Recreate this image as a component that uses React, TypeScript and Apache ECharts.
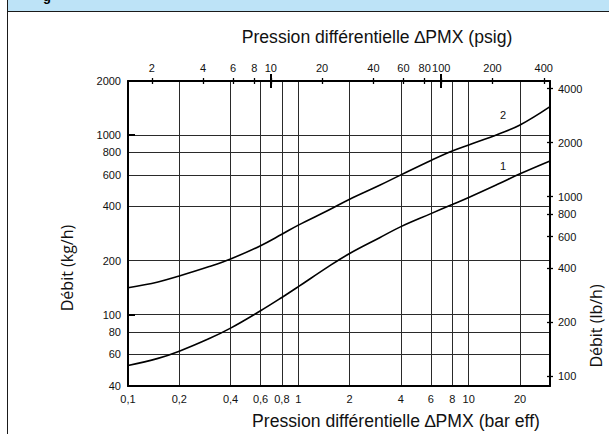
import React, { useEffect, useRef } from "react";
import * as echarts from "echarts";

// Data
const barValues = [0.1, 0.15, 0.2, 0.3, 0.4, 0.6, 0.8, 1, 1.5, 2, 3, 4, 6, 8, 10, 15, 20, 30];
const curve1KgH = [52, 57, 62.5, 73.5, 84, 105, 124.5, 143, 185, 219, 268, 309, 365, 410, 449, 535, 608, 717];
const curve2KgH = [141, 152, 164, 185, 204, 242, 280, 315, 381, 439, 525, 600, 722, 815, 880, 1014, 1137, 1439];

const bottomLabels = [0.1, 0.2, 0.4, 0.6, 0.8, 1, 2, 4, 6, 8, 10, 20];
const gridX = [0.2, 0.4, 0.6, 0.8, 1, 2, 4, 6, 8, 10, 20];
const topLabels = [2, 4, 6, 8, 10, 20, 40, 60, 80, 100, 200, 400];
const topMajor = [10, 100];
const leftLabels = [40, 60, 80, 100, 200, 400, 600, 800, 1000, 2000];
const gridY = [60, 80, 100, 200, 400, 600, 800, 1000];
const leftMajor = [100, 1000];
const rightLabels = [100, 200, 400, 600, 800, 1000, 2000, 4000];

const curveLabels = [
  { name: "2", bar: 15.9, kgh: 1290 },
  { name: "1", bar: 15.9, kgh: 672 },
];

const BAR_MIN = 0.1;
const BAR_MAX = 30;
const KG_MIN = 40;
const KG_MAX = 2000;
const PSI_PER_BAR = 14.5038;
const LB_PER_KG = 2.20462;

const FONT = "'Liberation Sans', Arial, sans-serif";
const TXT = "#111";

const fmt = (v: number) => String(v).replace(".", ",");

export default function App() {
  const ref = useRef<HTMLDivElement>(null);
  useEffect(() => {
    if (!ref.current) return;
    const chart = echarts.init(ref.current, null, { renderer: "svg" });
    const axisLineStyle = { color: "#000", width: 2 };
    const labelStyle = { color: TXT, fontSize: 11, fontFamily: FONT };
    const baseX = (extra: any) => ({
      type: "log",
      logBase: 10,
      min: BAR_MIN,
      max: BAR_MAX,
      ...extra,
    });
    const topX = (extra: any) => ({
      type: "log",
      logBase: 10,
      position: "top",
      min: BAR_MIN * PSI_PER_BAR,
      max: BAR_MAX * PSI_PER_BAR,
      splitLine: { show: false },
      ...extra,
    });
    const leftY = (extra: any) => ({
      type: "log",
      logBase: 10,
      position: "left",
      min: KG_MIN,
      max: KG_MAX,
      ...extra,
    });
    const rightY = (extra: any) => ({
      type: "log",
      logBase: 10,
      position: "right",
      min: KG_MIN * LB_PER_KG,
      max: KG_MAX * LB_PER_KG,
      splitLine: { show: false },
      ...extra,
    });

    const lineSeries = (name: string, values: number[], label: any) => ({
      name,
      type: "line",
      xAxisIndex: 0,
      yAxisIndex: 0,
      data: barValues.map((b, i) => [b, values[i]]),
      showSymbol: false,
      smooth: 0.4,
      silent: true,
      lineStyle: { color: "#000", width: 1.6 },
      markPoint: {
        symbol: "circle",
        symbolSize: 2,
        silent: true,
        itemStyle: { color: "rgba(0,0,0,0)" },
        data: [label],
      },
    });

    const option: any = {
      animation: false,
      backgroundColor: "#fff",
      grid: { left: 128, right: 59, top: 81, bottom: 48, containLabel: false },
      xAxis: [
        baseX({
          position: "bottom",
          axisLine: { show: true, onZero: false, lineStyle: axisLineStyle },
          axisTick: { show: false, customValues: gridX },
          axisLabel: {
            show: true,
            customValues: bottomLabels,
            formatter: (v: number) => fmt(v),
            margin: 7,
            ...labelStyle,
          },
          splitLine: { show: true, lineStyle: { color: "#2a2a2a", width: 1 } },
        }),
        topX({
          axisLine: { show: true, onZero: false, lineStyle: axisLineStyle },
          axisTick: { show: true, inside: true, length: 3, customValues: topLabels, lineStyle: { color: "#000", width: 1.3 } },
          axisLabel: { show: true, customValues: topLabels, formatter: (v: number) => String(v), margin: 8, ...labelStyle },
        }),
        topX({
          axisLine: { show: false, onZero: false },
          axisTick: { show: true, inside: false, length: 3, customValues: topLabels, lineStyle: { color: "#000", width: 1.3 } },
          axisLabel: { show: false },
        }),
        topX({
          axisLine: { show: false, onZero: false },
          axisTick: { show: true, inside: true, length: 7, customValues: topMajor, lineStyle: { color: "#000", width: 2 } },
          axisLabel: { show: false },
        }),
        topX({
          axisLine: { show: false, onZero: false },
          axisTick: { show: true, inside: false, length: 7, customValues: topMajor, lineStyle: { color: "#000", width: 2 } },
          axisLabel: { show: false },
        }),
      ],
      yAxis: [
        leftY({
          axisLine: { show: true, onZero: false, lineStyle: axisLineStyle },
          axisTick: { show: true, inside: true, length: 7, customValues: leftMajor, lineStyle: { color: "#000", width: 2 } },
          axisLabel: { show: true, customValues: leftLabels, formatter: (v: number) => String(v), margin: 7, ...labelStyle },
          splitLine: { show: false },
        }),
        leftY({
          axisLine: { show: false, onZero: false },
          axisTick: { show: false, customValues: gridY },
          axisLabel: { show: false },
          splitLine: { show: true, lineStyle: { color: "#2a2a2a", width: 1 } },
        }),
        rightY({
          axisLine: { show: true, onZero: false, lineStyle: axisLineStyle },
          axisTick: { show: true, inside: true, length: 3, customValues: rightLabels, lineStyle: { color: "#000", width: 1.3 } },
          axisLabel: { show: true, customValues: rightLabels, formatter: (v: number) => String(v), margin: 8, ...labelStyle },
        }),
        rightY({
          axisLine: { show: false, onZero: false },
          axisTick: { show: true, inside: false, length: 3, customValues: rightLabels, lineStyle: { color: "#000", width: 1.3 } },
          axisLabel: { show: false },
        }),
      ],
      series: [
        lineSeries("1", curve1KgH, {
          coord: [curveLabels[1].bar, curveLabels[1].kgh],
          label: {
            show: true,
            position: "inside",
            formatter: curveLabels[1].name,
            color: TXT,
            fontSize: 11,
            fontFamily: FONT,
            backgroundColor: "#fff",
            padding: [1, 4, 2, 4],
          },
        }),
        lineSeries("2", curve2KgH, {
          coord: [curveLabels[0].bar, curveLabels[0].kgh],
          label: {
            show: true,
            position: "inside",
            formatter: curveLabels[0].name,
            color: TXT,
            fontSize: 11,
            fontFamily: FONT,
          },
        }),
      ],
      graphic: [
        { type: "rect", silent: true, shape: { x: 7, y: 0, width: 602, height: 11 }, style: { fill: "#bde3f7" } },
        {
          type: "text",
          silent: true,
          x: 43,
          y: -10,
          style: { text: "g", fill: "#000", fontSize: 13, fontWeight: "bold", fontFamily: FONT, verticalAlign: "top" },
        },
        { type: "line", silent: true, shape: { x1: 7, y1: 11.5, x2: 609, y2: 11.5 }, style: { stroke: "#1a1a1a", lineWidth: 1 } },
        { type: "line", silent: true, shape: { x1: 7.5, y1: 0, x2: 7.5, y2: 434 }, style: { stroke: "#1a1a1a", lineWidth: 1 } },
        {
          type: "text",
          silent: true,
          x: 377,
          y: 37,
          style: {
            text: "Pression différentielle ∆PMX (psig)",
            fill: TXT,
            fontSize: 17.6,
            fontFamily: FONT,
            align: "center",
            verticalAlign: "middle",
          },
        },
        {
          type: "text",
          silent: true,
          x: 396,
          y: 421,
          style: {
            text: "Pression différentielle ∆PMX (bar eff)",
            fill: TXT,
            fontSize: 17.6,
            fontFamily: FONT,
            align: "center",
            verticalAlign: "middle",
          },
        },
        {
          type: "text",
          silent: true,
          x: 67,
          y: 268,
          rotation: Math.PI / 2,
          style: {
            text: "Débit (kg/h)",
            fill: TXT,
            fontSize: 16,
            fontFamily: "'Open Sans', 'Noto Sans', sans-serif",
            align: "center",
            verticalAlign: "middle",
          },
        },
        {
          type: "text",
          silent: true,
          x: 596,
          y: 326,
          rotation: Math.PI / 2,
          style: {
            text: "Débit (lb/h)",
            fill: TXT,
            fontSize: 16,
            fontFamily: "'Open Sans', 'Noto Sans', sans-serif",
            align: "center",
            verticalAlign: "middle",
          },
        },
      ],
    };
    chart.setOption(option);
    return () => chart.dispose();
  }, []);
  return (
    <div
      ref={ref}
      style={{ position: "absolute", left: 0, top: 0, width: 609, height: 434 }}
    />
  );
}
